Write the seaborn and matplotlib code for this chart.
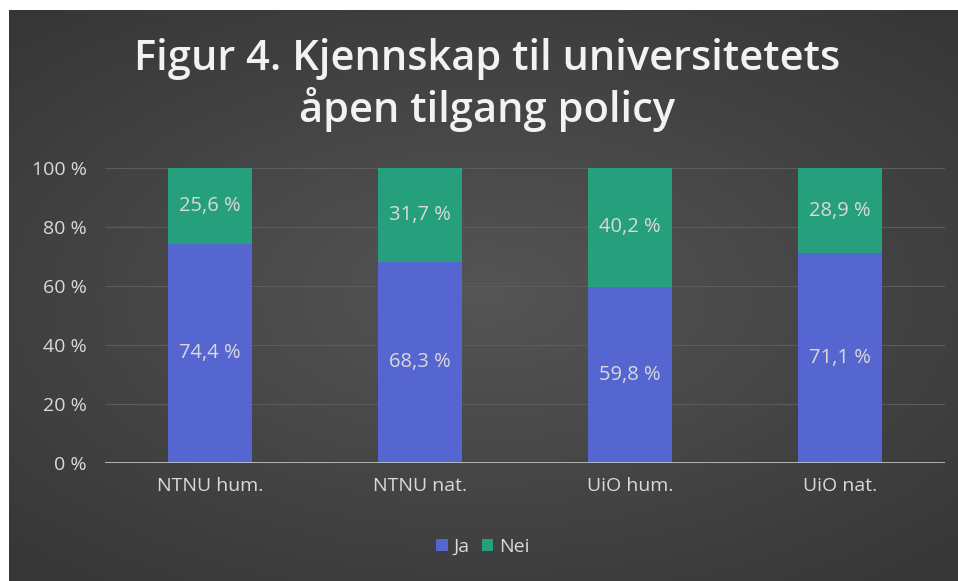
import numpy as np
import pandas as pd
import seaborn as sns
import matplotlib.pyplot as plt

groups = ["NTNU hum.", "NTNU nat.", "UiO hum.", "UiO nat."]
ja = [74.4, 68.3, 59.8, 71.1]
nei = [25.6, 31.7, 40.2, 28.9]
yticks = [0, 20, 40, 60, 80, 100]

df = pd.DataFrame({"Gruppe": groups, "Ja": ja, "Nei": nei})
df["Total"] = df["Ja"] + df["Nei"]

sns.set_style("dark")
plt.rcParams["font.family"] = ["Open Sans", "DejaVu Sans"]

blue = "#5566d0"
green = "#26a07c"
txt = "#d9d9d9"

fig = plt.figure(figsize=(9.58, 5.81), dpi=100, facecolor="white")

# dark radial background
bg = fig.add_axes([9 / 958, 0, 1 - 9 / 958, 1 - 10 / 581])
yy, xx = np.mgrid[-1:1:300j, -1:1:500j]
r = np.sqrt((xx * 0.9) ** 2 + (yy * 1.0) ** 2)
grad = np.clip(1 - r / 1.3, 0, 1)
bg.imshow(grad, cmap=sns.dark_palette("#555555", as_cmap=True), vmin=-0.55, vmax=1,
          aspect="auto", extent=[0, 1, 0, 1])
bg.set_axis_off()

ax = fig.add_axes([105 / 958, 1 - 463 / 581, 840 / 958, 295 / 581])
ax.patch.set_alpha(0)

sns.barplot(data=df, x="Gruppe", y="Total", color=green, width=0.4, ax=ax,
            saturation=1, label="Nei", linewidth=0)
sns.barplot(data=df, x="Gruppe", y="Ja", color=blue, width=0.4, ax=ax,
            saturation=1, label="Ja", linewidth=0)

for i in range(len(groups)):
    ax.text(i, ja[i] / 2, f"{ja[i]:.1f} %".replace(".", ","), ha="center",
            va="center", color=txt, fontsize=14.5)
    ax.text(i, ja[i] + nei[i] / 2, f"{nei[i]:.1f} %".replace(".", ","),
            ha="center", va="center", color=txt, fontsize=14.5)

ax.set_xlim(-0.5, 3.5)
ax.set_ylim(0, 100)
ax.set_yticks(yticks)
ax.set_yticklabels([f"{v} %" for v in yticks])
ax.tick_params(axis="both", colors=txt, labelsize=14, length=0)
ax.tick_params(axis="x", pad=10)
ax.tick_params(axis="y", pad=13)
ax.yaxis.grid(True, color="#5c5c5c", linewidth=0.8)
ax.set_axisbelow(True)
for s in ax.spines.values():
    s.set_visible(False)
ax.axhline(0, color="#bfbfbf", linewidth=2, zorder=3)
ax.set_xlabel("")
ax.set_ylabel("")

handles, labels = ax.get_legend_handles_labels()
order = [labels.index("Ja"), labels.index("Nei")]
fig.legend([handles[k] for k in order], ["Ja", "Nei"], loc="center",
           bbox_to_anchor=(483 / 958, 1 - 547 / 581), ncol=2, frameon=False,
           fontsize=14, handlelength=0.6, handleheight=0.6, handletextpad=0.3,
           columnspacing=0.6, labelcolor=txt)
if ax.get_legend():
    ax.get_legend().remove()

fig.text(487 / 958, 1 - 85 / 581, "Figur 4. Kjennskap til universitetets\nåpen tilgang policy",
         ha="center", va="center", color="#f2f2f2", fontsize=30, fontweight="semibold",
         linespacing=1.2)

fig.savefig("out.png", dpi=100, facecolor=fig.get_facecolor())
